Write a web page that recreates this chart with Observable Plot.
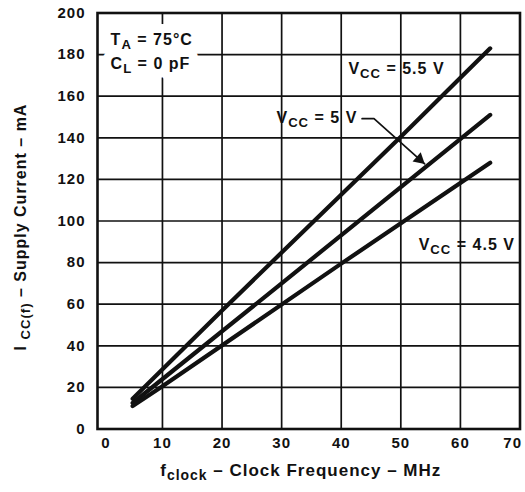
<!DOCTYPE html>
<html>
<head>
<meta charset="utf-8">
<script src="https://cdn.jsdelivr.net/npm/d3@7"></script>
<script src="https://cdn.jsdelivr.net/npm/@observablehq/plot@0.6"></script>
<style>
  html, body { margin: 0; padding: 0; background: #fff; }
  #chart text { letter-spacing: 1px; }
</style>
</head>
<body>
<div id="chart"></div>
<script>
// Supply current vs clock frequency, three supply voltages (TA = 75°C, CL = 0 pF)
const freq55 = [5, 20, 50, 65];
const icc55  = [14.5, 57, 140.5, 183];
const freq50 = [5, 30, 65];
const icc50  = [12.5, 70, 151];
const freq45 = [5, 10, 40, 65];
const icc45  = [11, 20.5, 79.5, 128];

const xDomain = [-0.9, 70];
const yDomain = [0, 200];
const xTicks = [10, 20, 30, 40, 50, 60];
const xTickFirst = [0];
const xTickLast = [70];
const yTicks = [0, 20, 40, 60, 80, 100, 120, 140, 160, 180, 200];
const xGrid = [10, 20, 30, 40, 50, 60];
const yGrid = [20, 40, 60, 80, 100, 120, 140, 160, 180];

// labels use _{...} for subscripts
const xLabel = "f_{clock} – Clock Frequency – MHz";
const yLabel = "I _{CC(f)} – Supply Current – mA";
const conditionText = ["T_{A} = 75°C", "C_{L} = 0 pF"];
const conditionAt = [[1.3, 184.6], [1.3, 173]];
const curveLabels = ["V_{CC} = 5.5 V", "V_{CC} = 4.5 V"];
const curveLabelAt = [[41.2, 170.7], [53, 86.2]];
const arrowLabel = "V_{CC} = 5 V";
const arrowLabelAt = [42.7, 147.2];
const arrowF = [43.5, 45.5, 54];
const arrowI = [149.2, 149.2, 127.5];

const series = [
  {vcc: "5.5 V", f: freq55, i: icc55},
  {vcc: "5 V", f: freq50, i: icc50},
  {vcc: "4.5 V", f: freq45, i: icc45}
];
const rows = series.flatMap(s => s.f.map((f, k) => ({vcc: s.vcc, f, i: s.i[k]})));
const arrowPts = arrowF.map((f, k) => ({f, i: arrowI[k]}));

// grid lines as two-point polylines spanning the domain
const gridRows = [
  ...xGrid.flatMap(g => yDomain.map(v => ({key: "x" + g, f: g, i: v}))),
  ...yGrid.flatMap(g => xDomain.map(v => ({key: "y" + g, f: v, i: g})))
];

const ink = "#111";
const fontFamily = "'Liberation Sans', Arial, sans-serif";
const tickFont = {fontFamily, fontWeight: "bold", fill: ink, tickSize: 0, tickPadding: 8, fontSize: 15, label: null};

// text widths (with the 1px letter spacing) for laying out subscripts
const ctx = document.createElement("canvas").getContext("2d");
function textWidth(s, size) {
  ctx.font = `bold ${size}px ${fontFamily}`;
  return ctx.measureText(s).width + s.length;
}

// one text mark per run of normal / subscript text
function labelMarks(s, o) {
  const parts = s.split(/(_\{[^}]*\})/).filter(p => p.length)
    .map(p => p.startsWith("_{") ? {t: p.slice(2, -1), sub: true} : {t: p, sub: false});
  let cursor = 0;
  const placed = parts.map(p => {
    const size = p.sub ? o.size * 0.82 : o.size;
    const r = {...p, size, off: cursor};
    cursor += textWidth(p.t, size);
    return r;
  });
  const shift = o.anchor === "end" ? cursor : o.anchor === "middle" ? cursor / 2 : 0;
  const drop = o.size * 0.26;
  return placed.map(p => {
    const along = p.off - shift;
    const down = p.sub ? drop : 0;
    const opts = {text: d => d, textAnchor: "start", lineAnchor: "bottom", fontSize: p.size,
      fontFamily, fontWeight: "bold", fill: o.fill || ink};
    if (o.stroke) Object.assign(opts, {stroke: o.stroke, strokeWidth: o.strokeWidth});
    if (o.rotate) Object.assign(opts, {rotate: o.rotate, dx: (o.dx || 0) + down, dy: (o.dy || 0) - along});
    else Object.assign(opts, {dx: (o.dx || 0) + along, dy: (o.dy || 0) + down});
    if (o.frameAnchor) opts.frameAnchor = o.frameAnchor;
    else { opts.x = () => o.x; opts.y = () => o.y; }
    return Plot.text([p.t], opts);
  });
}

const conditionHalo = conditionText.flatMap((t, k) =>
  labelMarks(t, {x: conditionAt[k][0], y: conditionAt[k][1], size: 16, fill: "#fff", stroke: "#fff", strokeWidth: 18}));
const conditionMarks = conditionText.flatMap((t, k) =>
  labelMarks(t, {x: conditionAt[k][0], y: conditionAt[k][1], size: 16}));
const curveMarks = curveLabels.flatMap((t, k) =>
  labelMarks(t, {x: curveLabelAt[k][0], y: curveLabelAt[k][1], size: 16}));
const arrowLabelMarks = labelMarks(arrowLabel, {x: arrowLabelAt[0], y: arrowLabelAt[1], size: 16, anchor: "end"});
const xLabelMarks = labelMarks(xLabel, {frameAnchor: "bottom", anchor: "middle", size: 17, dx: -8, dy: 47});
const yLabelMarks = labelMarks(yLabel, {frameAnchor: "left", anchor: "middle", size: 16, rotate: -90, dx: -72, dy: 6});

const svg = Plot.plot({
  width: 525,
  height: 492,
  marginLeft: 97,
  marginRight: 5.5,
  marginTop: 12.5,
  marginBottom: 63.5,
  x: {domain: xDomain},
  y: {domain: yDomain},
  marks: [
    Plot.frame({stroke: ink, strokeWidth: 2.6}),
    Plot.axisX(xTicks, tickFont),
    Plot.axisX(xTickFirst, {...tickFont, dx: 3}),
    Plot.axisX(xTickLast, {...tickFont, textAnchor: "end", dx: 2}),
    Plot.axisY(yTicks, {...tickFont, tickPadding: 12}),
    Plot.line(rows, {x: "f", y: "i", z: "vcc", stroke: ink, strokeWidth: 4.2}),
    Plot.line(gridRows, {x: "f", y: "i", z: "key", stroke: ink, strokeWidth: 1.7, strokeLinecap: "butt"}),
    // pointer from the 5 V label to its curve, with a filled head
    Plot.line(arrowPts, {x: "f", y: "i", stroke: ink, strokeWidth: 1.7, strokeLinejoin: "miter"}),
    Plot.dot(arrowPts.slice(-1), {x: "f", y: "i", symbol: "triangle", r: 4.6, rotate: 131,
      dx: -5.3, dy: -4.6, fill: ink, stroke: "none"}),
    ...conditionHalo,
    ...conditionMarks,
    ...curveMarks,
    ...arrowLabelMarks,
    ...xLabelMarks,
    ...yLabelMarks
  ]
});

document.getElementById("chart").append(svg);
</script>
</body>
</html>
